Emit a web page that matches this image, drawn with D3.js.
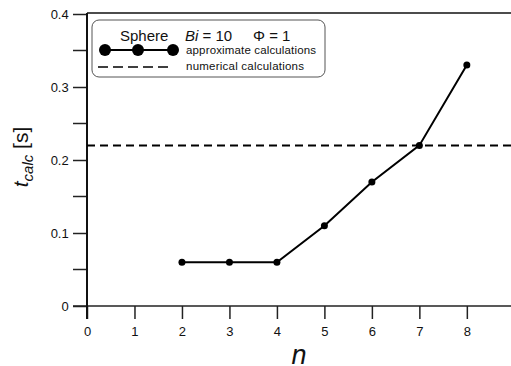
<!DOCTYPE html>
<html>
<head>
<meta charset="utf-8">
<script src="https://cdn.jsdelivr.net/npm/d3@7"></script>
<style>
  body { margin: 0; background: #fff; overflow: hidden; }
  text { font-family: Arial, "Liberation Sans", sans-serif; }
</style>
</head>
<body>
<svg id="chart" width="511" height="366"></svg>
<script>
// data
const nValues = [2, 3, 4, 5, 6, 7, 8];
const tCalc = [0.06, 0.06, 0.06, 0.11, 0.17, 0.22, 0.33];
const tNumerical = 0.22;
const xTicks = [0, 1, 2, 3, 4, 5, 6, 7, 8];
const yTicks = [0, 0.1, 0.2, 0.3, 0.4];
const yMinorTicks = [0.05, 0.15, 0.25, 0.35];

const svg = d3.select("#chart");
const width = +svg.attr("width");
const height = +svg.attr("height");
const margin = { top: 14, right: 0, bottom: 60, left: 87 };

const x = d3.scaleLinear().domain([0, 8.93]).range([margin.left, width - margin.right]);
const y = d3.scaleLinear().domain([0, 0.4]).range([height - margin.bottom, margin.top]);

// axes
const xAxis = d3.axisBottom(x).tickValues(xTicks).tickFormat(d3.format("d")).tickSize(13).tickSizeOuter(0);
const yAxis = d3.axisLeft(y).tickValues(yTicks).tickFormat(d => d === 0 ? "0" : d3.format(".1f")(d)).tickSize(14).tickSizeOuter(0);

const gx = svg.append("g").attr("transform", `translate(0,${y(0)})`).call(xAxis);
const gy = svg.append("g").attr("transform", `translate(${margin.left},0)`).call(yAxis);
gx.select(".domain").remove();
gy.select(".domain").remove();

[gx, gy].forEach(g => {
  g.selectAll("line").attr("stroke", "#222").attr("stroke-width", 1.5);
  g.selectAll("text").attr("fill", "#111").style("font-size", "13px");
});
gx.selectAll("text").attr("dy", "1.1em");
gy.selectAll("text").attr("dx", "-0.1em");

// minor ticks
svg.append("g").selectAll("line").data(yMinorTicks).join("line")
  .attr("x1", margin.left - 14).attr("x2", margin.left)
  .attr("y1", d => y(d)).attr("y2", d => y(d))
  .attr("stroke", "#222").attr("stroke-width", 1.5);

// axis lines (extend past the origin like the original)
svg.append("line").attr("x1", margin.left - 14).attr("x2", width)
  .attr("y1", y(0)).attr("y2", y(0)).attr("stroke", "#222").attr("stroke-width", 1.5);
svg.append("line").attr("x1", margin.left).attr("x2", margin.left)
  .attr("y1", y(0.4) - 1).attr("y2", y(0) + 13).attr("stroke", "#111").attr("stroke-width", 2);
svg.append("line").attr("x1", margin.left).attr("x2", width)
  .attr("y1", y(0.4) - 1).attr("y2", y(0.4) - 1).attr("stroke", "#111").attr("stroke-width", 1.5);

// numerical result (dashed)
svg.append("line")
  .attr("x1", margin.left).attr("x2", width)
  .attr("y1", y(tNumerical)).attr("y2", y(tNumerical))
  .attr("stroke", "#000").attr("stroke-width", 2).attr("stroke-dasharray", "8,5");

// approximate results
const pts = nValues.map((n, i) => [n, tCalc[i]]);
svg.append("path").datum(pts)
  .attr("fill", "none").attr("stroke", "#000").attr("stroke-width", 2)
  .attr("d", d3.line().x(d => x(d[0])).y(d => y(d[1])));
svg.append("g").selectAll("circle").data(pts).join("circle")
  .attr("cx", d => x(d[0])).attr("cy", d => y(d[1])).attr("r", 3.5).attr("fill", "#000");

// axis labels
svg.append("text")
  .attr("transform", `translate(28,157) rotate(-90)`)
  .attr("text-anchor", "middle").style("font-size", "21px").attr("fill", "#111")
  .call(t => {
    t.append("tspan").style("font-style", "italic").text("t");
    t.append("tspan").style("font-style", "italic").style("font-size", "15px").attr("dy", 5).text("calc");
    t.append("tspan").attr("dy", -5).text(" [s]");
  });
svg.append("text")
  .attr("x", (margin.left + width) / 2).attr("y", 364)
  .attr("text-anchor", "middle").style("font-size", "27px").style("font-style", "italic")
  .attr("fill", "#111").text("n");

// legend
const lg = svg.append("g");
lg.append("rect").attr("x", 92).attr("y", 20).attr("width", 233).attr("height", 57).attr("rx", 7)
  .attr("fill", "#fff").attr("stroke", "#555").attr("stroke-width", 1);
lg.append("text").attr("y", 41).style("font-size", "15px").attr("fill", "#111")
  .call(t => {
    t.append("tspan").attr("x", 120).text("Sphere");
    t.append("tspan").attr("x", 185).style("font-style", "italic").text("Bi");
    t.append("tspan").text(" = 10");
    t.append("tspan").attr("x", 253).text("\u03A6 = 1");
  });
lg.append("line").attr("x1", 105).attr("x2", 173).attr("y1", 50).attr("y2", 50)
  .attr("stroke", "#000").attr("stroke-width", 2);
lg.selectAll("circle").data([105, 138, 173]).join("circle")
  .attr("cx", d => d).attr("cy", 50).attr("r", 6).attr("fill", "#000");
lg.append("line").attr("x1", 98).attr("x2", 170).attr("y1", 67).attr("y2", 67)
  .attr("stroke", "#000").attr("stroke-width", 1.5).attr("stroke-dasharray", "10,5");
lg.append("text").attr("x", 186).attr("y", 54).attr("textLength", 130).style("font-size", "11.5px").attr("fill", "#111")
  .text("approximate calculations");
lg.append("text").attr("x", 186).attr("y", 70).attr("textLength", 118).style("font-size", "11.5px").attr("fill", "#111")
  .text("numerical calculations");
</script>
</body>
</html>
